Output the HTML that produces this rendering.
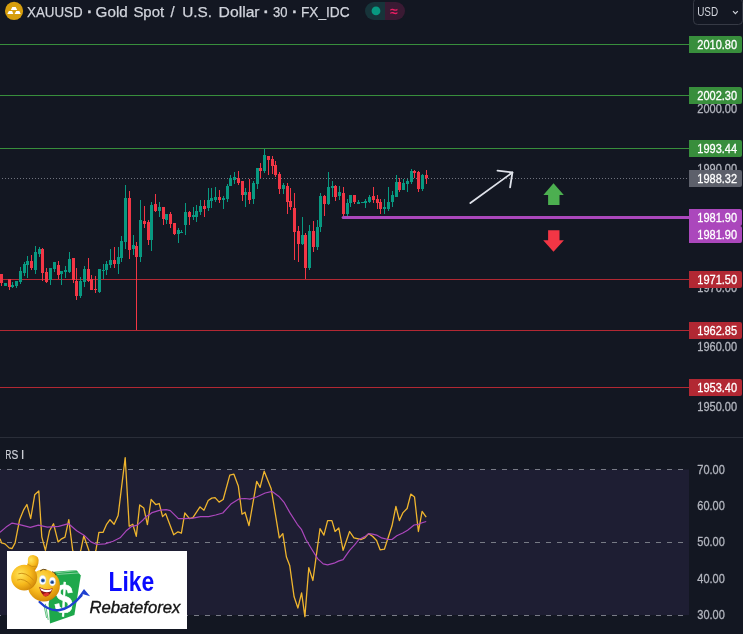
<!DOCTYPE html>
<html lang="en"><head><meta charset="utf-8"><title>XAUUSD chart</title>
<style>html,body{margin:0;padding:0;background:#131722;overflow:hidden}svg{display:block}</style></head>
<body>
<svg width="743" height="634" viewBox="0 0 743 634" font-family='"Liberation Sans", "DejaVu Sans", sans-serif'>
<rect width="743" height="634" fill="#131722"/>
<rect x="0" y="44" width="689" height="1" fill="#388e3c" />
<rect x="0" y="95" width="689" height="1" fill="#388e3c" />
<rect x="0" y="148" width="689" height="1" fill="#388e3c" />
<rect x="0" y="279" width="689" height="1" fill="#b22833" />
<rect x="0" y="330" width="689" height="1" fill="#b22833" />
<rect x="0" y="387" width="689" height="1" fill="#b22833" />
<line x1="2" y1="178.5" x2="688" y2="178.5" stroke="#70737e" stroke-width="1" stroke-dasharray="1 2" shape-rendering="crispEdges"/>
<g shape-rendering="crispEdges">
<rect x="1" y="274" width="1" height="12" fill="#f23645"/>
<rect x="0" y="274" width="3" height="9" fill="#f23645"/>
<rect x="5" y="283" width="1" height="3" fill="#089981"/>
<rect x="4" y="283" width="3" height="3" fill="#089981"/>
<rect x="9" y="279" width="1" height="11" fill="#f23645"/>
<rect x="8" y="279" width="3" height="8" fill="#f23645"/>
<rect x="12" y="282" width="1" height="6" fill="#089981"/>
<rect x="11" y="285" width="3" height="2" fill="#089981"/>
<rect x="16" y="281" width="1" height="7" fill="#089981"/>
<rect x="15" y="281" width="3" height="5" fill="#089981"/>
<rect x="20" y="267" width="1" height="17" fill="#089981"/>
<rect x="19" y="271" width="3" height="11" fill="#089981"/>
<rect x="24" y="262" width="1" height="14" fill="#089981"/>
<rect x="23" y="264" width="3" height="9" fill="#089981"/>
<rect x="27" y="256" width="1" height="22" fill="#089981"/>
<rect x="26" y="261" width="3" height="4" fill="#089981"/>
<rect x="31" y="255" width="1" height="15" fill="#f23645"/>
<rect x="30" y="261" width="3" height="7" fill="#f23645"/>
<rect x="35" y="246" width="1" height="28" fill="#089981"/>
<rect x="34" y="252" width="3" height="18" fill="#089981"/>
<rect x="39" y="247" width="1" height="10" fill="#089981"/>
<rect x="38" y="249" width="3" height="5" fill="#089981"/>
<rect x="42" y="248" width="1" height="33" fill="#f23645"/>
<rect x="41" y="249" width="3" height="24" fill="#f23645"/>
<rect x="46" y="268" width="1" height="15" fill="#f23645"/>
<rect x="45" y="272" width="3" height="10" fill="#f23645"/>
<rect x="50" y="268" width="1" height="17" fill="#089981"/>
<rect x="49" y="268" width="3" height="12" fill="#089981"/>
<rect x="54" y="262" width="1" height="10" fill="#089981"/>
<rect x="53" y="262" width="3" height="7" fill="#089981"/>
<rect x="58" y="261" width="1" height="18" fill="#f23645"/>
<rect x="57" y="265" width="3" height="10" fill="#f23645"/>
<rect x="61" y="271" width="1" height="14" fill="#089981"/>
<rect x="60" y="271" width="3" height="3" fill="#089981"/>
<rect x="65" y="266" width="1" height="12" fill="#089981"/>
<rect x="64" y="270" width="3" height="2" fill="#089981"/>
<rect x="69" y="252" width="1" height="21" fill="#089981"/>
<rect x="68" y="259" width="3" height="13" fill="#089981"/>
<rect x="73" y="258" width="1" height="25" fill="#f23645"/>
<rect x="72" y="258" width="3" height="22" fill="#f23645"/>
<rect x="76" y="268" width="1" height="32" fill="#f23645"/>
<rect x="75" y="281" width="3" height="15" fill="#f23645"/>
<rect x="80" y="277" width="1" height="21" fill="#089981"/>
<rect x="79" y="281" width="3" height="15" fill="#089981"/>
<rect x="84" y="266" width="1" height="21" fill="#089981"/>
<rect x="83" y="269" width="3" height="13" fill="#089981"/>
<rect x="88" y="258" width="1" height="24" fill="#f23645"/>
<rect x="87" y="269" width="3" height="12" fill="#f23645"/>
<rect x="91" y="275" width="1" height="15" fill="#f23645"/>
<rect x="90" y="279" width="3" height="11" fill="#f23645"/>
<rect x="95" y="276" width="1" height="17" fill="#f23645"/>
<rect x="94" y="289" width="3" height="1" fill="#f23645"/>
<rect x="99" y="269" width="1" height="24" fill="#089981"/>
<rect x="98" y="269" width="3" height="23" fill="#089981"/>
<rect x="103" y="264" width="1" height="15" fill="#089981"/>
<rect x="102" y="270" width="3" height="1" fill="#089981"/>
<rect x="106" y="261" width="1" height="14" fill="#089981"/>
<rect x="105" y="264" width="3" height="6" fill="#089981"/>
<rect x="110" y="249" width="1" height="19" fill="#089981"/>
<rect x="109" y="260" width="3" height="5" fill="#089981"/>
<rect x="114" y="247" width="1" height="21" fill="#f23645"/>
<rect x="113" y="260" width="3" height="4" fill="#f23645"/>
<rect x="118" y="247" width="1" height="27" fill="#089981"/>
<rect x="117" y="257" width="3" height="7" fill="#089981"/>
<rect x="121" y="236" width="1" height="26" fill="#089981"/>
<rect x="120" y="241" width="3" height="17" fill="#089981"/>
<rect x="125" y="185" width="1" height="64" fill="#089981"/>
<rect x="124" y="198" width="3" height="44" fill="#089981"/>
<rect x="129" y="191" width="1" height="68" fill="#f23645"/>
<rect x="128" y="198" width="3" height="52" fill="#f23645"/>
<rect x="133" y="235" width="1" height="20" fill="#089981"/>
<rect x="132" y="245" width="3" height="4" fill="#089981"/>
<rect x="136" y="242" width="1" height="88" fill="#f23645"/>
<rect x="135" y="246" width="3" height="11" fill="#f23645"/>
<rect x="140" y="200" width="1" height="62" fill="#089981"/>
<rect x="139" y="220" width="3" height="37" fill="#089981"/>
<rect x="144" y="206" width="1" height="22" fill="#f23645"/>
<rect x="143" y="221" width="3" height="3" fill="#f23645"/>
<rect x="148" y="220" width="1" height="25" fill="#f23645"/>
<rect x="147" y="222" width="3" height="18" fill="#f23645"/>
<rect x="151" y="202" width="1" height="49" fill="#089981"/>
<rect x="150" y="205" width="3" height="35" fill="#089981"/>
<rect x="155" y="194" width="1" height="18" fill="#f23645"/>
<rect x="154" y="204" width="3" height="7" fill="#f23645"/>
<rect x="159" y="202" width="1" height="15" fill="#089981"/>
<rect x="158" y="207" width="3" height="4" fill="#089981"/>
<rect x="163" y="207" width="1" height="18" fill="#f23645"/>
<rect x="162" y="207" width="3" height="12" fill="#f23645"/>
<rect x="166" y="214" width="1" height="10" fill="#089981"/>
<rect x="165" y="214" width="3" height="6" fill="#089981"/>
<rect x="170" y="212" width="1" height="16" fill="#f23645"/>
<rect x="169" y="214" width="3" height="10" fill="#f23645"/>
<rect x="174" y="223" width="1" height="12" fill="#f23645"/>
<rect x="173" y="223" width="3" height="11" fill="#f23645"/>
<rect x="178" y="228" width="1" height="15" fill="#089981"/>
<rect x="177" y="230" width="3" height="4" fill="#089981"/>
<rect x="181" y="230" width="1" height="3" fill="#089981"/>
<rect x="180" y="232" width="3" height="1" fill="#089981"/>
<rect x="185" y="203" width="1" height="32" fill="#089981"/>
<rect x="184" y="212" width="3" height="13" fill="#089981"/>
<rect x="189" y="211" width="1" height="14" fill="#f23645"/>
<rect x="188" y="212" width="3" height="5" fill="#f23645"/>
<rect x="193" y="207" width="1" height="13" fill="#089981"/>
<rect x="192" y="215" width="3" height="2" fill="#089981"/>
<rect x="196" y="205" width="1" height="17" fill="#089981"/>
<rect x="195" y="211" width="3" height="6" fill="#089981"/>
<rect x="200" y="200" width="1" height="15" fill="#089981"/>
<rect x="199" y="206" width="3" height="6" fill="#089981"/>
<rect x="204" y="200" width="1" height="17" fill="#f23645"/>
<rect x="203" y="206" width="3" height="3" fill="#f23645"/>
<rect x="208" y="188" width="1" height="23" fill="#089981"/>
<rect x="207" y="200" width="3" height="8" fill="#089981"/>
<rect x="211" y="188" width="1" height="20" fill="#089981"/>
<rect x="210" y="198" width="3" height="3" fill="#089981"/>
<rect x="215" y="187" width="1" height="15" fill="#089981"/>
<rect x="214" y="197" width="3" height="3" fill="#089981"/>
<rect x="219" y="190" width="1" height="13" fill="#f23645"/>
<rect x="218" y="197" width="3" height="3" fill="#f23645"/>
<rect x="223" y="196" width="1" height="13" fill="#089981"/>
<rect x="222" y="198" width="3" height="2" fill="#089981"/>
<rect x="227" y="184" width="1" height="18" fill="#089981"/>
<rect x="226" y="186" width="3" height="13" fill="#089981"/>
<rect x="230" y="175" width="1" height="11" fill="#089981"/>
<rect x="229" y="178" width="3" height="8" fill="#089981"/>
<rect x="234" y="172" width="1" height="12" fill="#089981"/>
<rect x="233" y="177" width="3" height="3" fill="#089981"/>
<rect x="238" y="171" width="1" height="14" fill="#f23645"/>
<rect x="237" y="178" width="3" height="5" fill="#f23645"/>
<rect x="242" y="181" width="1" height="20" fill="#f23645"/>
<rect x="241" y="181" width="3" height="14" fill="#f23645"/>
<rect x="245" y="188" width="1" height="19" fill="#089981"/>
<rect x="244" y="192" width="3" height="3" fill="#089981"/>
<rect x="249" y="179" width="1" height="25" fill="#f23645"/>
<rect x="248" y="192" width="3" height="8" fill="#f23645"/>
<rect x="253" y="181" width="1" height="23" fill="#089981"/>
<rect x="252" y="183" width="3" height="16" fill="#089981"/>
<rect x="257" y="168" width="1" height="21" fill="#089981"/>
<rect x="256" y="168" width="3" height="16" fill="#089981"/>
<rect x="260" y="163" width="1" height="15" fill="#f23645"/>
<rect x="259" y="168" width="3" height="3" fill="#f23645"/>
<rect x="264" y="149" width="1" height="24" fill="#089981"/>
<rect x="263" y="155" width="3" height="16" fill="#089981"/>
<rect x="268" y="156" width="1" height="19" fill="#f23645"/>
<rect x="267" y="156" width="3" height="4" fill="#f23645"/>
<rect x="272" y="156" width="1" height="18" fill="#f23645"/>
<rect x="271" y="159" width="3" height="7" fill="#f23645"/>
<rect x="275" y="161" width="1" height="16" fill="#f23645"/>
<rect x="274" y="165" width="3" height="10" fill="#f23645"/>
<rect x="279" y="172" width="1" height="22" fill="#f23645"/>
<rect x="278" y="174" width="3" height="15" fill="#f23645"/>
<rect x="283" y="183" width="1" height="11" fill="#089981"/>
<rect x="282" y="185" width="3" height="4" fill="#089981"/>
<rect x="287" y="183" width="1" height="31" fill="#f23645"/>
<rect x="286" y="186" width="3" height="16" fill="#f23645"/>
<rect x="290" y="188" width="1" height="22" fill="#f23645"/>
<rect x="289" y="201" width="3" height="6" fill="#f23645"/>
<rect x="294" y="193" width="1" height="67" fill="#f23645"/>
<rect x="293" y="208" width="3" height="24" fill="#f23645"/>
<rect x="298" y="226" width="1" height="36" fill="#f23645"/>
<rect x="297" y="231" width="3" height="13" fill="#f23645"/>
<rect x="302" y="217" width="1" height="28" fill="#089981"/>
<rect x="301" y="235" width="3" height="9" fill="#089981"/>
<rect x="305" y="233" width="1" height="46" fill="#f23645"/>
<rect x="304" y="235" width="3" height="33" fill="#f23645"/>
<rect x="309" y="225" width="1" height="45" fill="#089981"/>
<rect x="308" y="231" width="3" height="37" fill="#089981"/>
<rect x="313" y="221" width="1" height="31" fill="#f23645"/>
<rect x="312" y="231" width="3" height="16" fill="#f23645"/>
<rect x="317" y="220" width="1" height="30" fill="#089981"/>
<rect x="316" y="227" width="3" height="20" fill="#089981"/>
<rect x="320" y="193" width="1" height="39" fill="#089981"/>
<rect x="319" y="196" width="3" height="31" fill="#089981"/>
<rect x="324" y="195" width="1" height="21" fill="#f23645"/>
<rect x="323" y="196" width="3" height="8" fill="#f23645"/>
<rect x="328" y="172" width="1" height="33" fill="#089981"/>
<rect x="327" y="187" width="3" height="17" fill="#089981"/>
<rect x="332" y="181" width="1" height="16" fill="#089981"/>
<rect x="331" y="186" width="3" height="2" fill="#089981"/>
<rect x="335" y="185" width="1" height="16" fill="#f23645"/>
<rect x="334" y="186" width="3" height="11" fill="#f23645"/>
<rect x="339" y="186" width="1" height="14" fill="#089981"/>
<rect x="338" y="192" width="3" height="4" fill="#089981"/>
<rect x="343" y="187" width="1" height="30" fill="#f23645"/>
<rect x="342" y="193" width="3" height="21" fill="#f23645"/>
<rect x="347" y="199" width="1" height="18" fill="#089981"/>
<rect x="346" y="203" width="3" height="11" fill="#089981"/>
<rect x="350" y="195" width="1" height="12" fill="#089981"/>
<rect x="349" y="195" width="3" height="8" fill="#089981"/>
<rect x="354" y="195" width="1" height="9" fill="#f23645"/>
<rect x="353" y="195" width="3" height="7" fill="#f23645"/>
<rect x="358" y="200" width="1" height="4" fill="#089981"/>
<rect x="357" y="202" width="3" height="2" fill="#089981"/>
<rect x="362" y="202" width="1" height="1" fill="#089981"/>
<rect x="361" y="202" width="3" height="1" fill="#089981"/>
<rect x="365" y="199" width="1" height="9" fill="#089981"/>
<rect x="364" y="201" width="3" height="2" fill="#089981"/>
<rect x="369" y="195" width="1" height="8" fill="#089981"/>
<rect x="368" y="197" width="3" height="5" fill="#089981"/>
<rect x="373" y="187" width="1" height="16" fill="#f23645"/>
<rect x="372" y="196" width="3" height="4" fill="#f23645"/>
<rect x="377" y="195" width="1" height="14" fill="#f23645"/>
<rect x="376" y="199" width="3" height="4" fill="#f23645"/>
<rect x="380" y="199" width="1" height="15" fill="#f23645"/>
<rect x="379" y="202" width="3" height="7" fill="#f23645"/>
<rect x="384" y="199" width="1" height="15" fill="#089981"/>
<rect x="383" y="207" width="3" height="2" fill="#089981"/>
<rect x="388" y="187" width="1" height="24" fill="#089981"/>
<rect x="387" y="202" width="3" height="7" fill="#089981"/>
<rect x="392" y="191" width="1" height="16" fill="#089981"/>
<rect x="391" y="195" width="3" height="7" fill="#089981"/>
<rect x="396" y="175" width="1" height="22" fill="#089981"/>
<rect x="395" y="182" width="3" height="15" fill="#089981"/>
<rect x="399" y="178" width="1" height="14" fill="#f23645"/>
<rect x="398" y="182" width="3" height="8" fill="#f23645"/>
<rect x="403" y="179" width="1" height="11" fill="#089981"/>
<rect x="402" y="183" width="3" height="7" fill="#089981"/>
<rect x="407" y="179" width="1" height="13" fill="#089981"/>
<rect x="406" y="181" width="3" height="3" fill="#089981"/>
<rect x="411" y="169" width="1" height="15" fill="#089981"/>
<rect x="410" y="171" width="3" height="11" fill="#089981"/>
<rect x="414" y="170" width="1" height="8" fill="#f23645"/>
<rect x="413" y="171" width="3" height="2" fill="#f23645"/>
<rect x="418" y="171" width="1" height="21" fill="#f23645"/>
<rect x="417" y="172" width="3" height="17" fill="#f23645"/>
<rect x="422" y="174" width="1" height="17" fill="#089981"/>
<rect x="421" y="175" width="3" height="14" fill="#089981"/>
<rect x="426" y="170" width="1" height="14" fill="#f23645"/>
<rect x="425" y="175" width="3" height="3" fill="#f23645"/>
</g>
<path d="M343.1 217.5 H689" stroke="#ab47bc" stroke-width="3" stroke-linecap="round" fill="none"/>
<g stroke="#dfe2ea" stroke-width="1.8" stroke-linecap="round" stroke-linejoin="round" fill="none"><path d="M470.4 203.1 L512.4 172.5"/><path d="M497.5 170.7 L512.4 172.5 L510.1 187.4"/></g>
<path d="M553.5 183.3 L563.8 194.9 L559.5 194.9 L559.5 204.9 L548.1 204.9 L548.1 194.9 L543.4 194.9 Z" fill="#4caf50"/>
<path d="M548.1 230.2 L559.5 230.2 L559.5 240.2 L563.9 240.2 L553.5 251.8 L543.2 240.2 L548.1 240.2 Z" fill="#f23645"/>
<text x="697.3" y="113.35" font-size="12" fill="#b2b5be" textLength="39.8" lengthAdjust="spacingAndGlyphs" font-weight="normal" stroke="#b2b5be" stroke-width="0.3">2000.00</text>
<text x="697.3" y="172.85" font-size="12" fill="#b2b5be" textLength="39.8" lengthAdjust="spacingAndGlyphs" font-weight="normal" stroke="#b2b5be" stroke-width="0.3">1990.00</text>
<text x="697.3" y="232.35" font-size="12" fill="#b2b5be" textLength="39.8" lengthAdjust="spacingAndGlyphs" font-weight="normal" stroke="#b2b5be" stroke-width="0.3">1980.00</text>
<text x="697.3" y="291.85" font-size="12" fill="#b2b5be" textLength="39.8" lengthAdjust="spacingAndGlyphs" font-weight="normal" stroke="#b2b5be" stroke-width="0.3">1970.00</text>
<text x="697.3" y="351.35" font-size="12" fill="#b2b5be" textLength="39.8" lengthAdjust="spacingAndGlyphs" font-weight="normal" stroke="#b2b5be" stroke-width="0.3">1960.00</text>
<text x="697.3" y="410.85" font-size="12" fill="#b2b5be" textLength="39.8" lengthAdjust="spacingAndGlyphs" font-weight="normal" stroke="#b2b5be" stroke-width="0.3">1950.00</text>
<path d="M689 36 H740 a2 2 0 0 1 2 2 V51 a2 2 0 0 1 -2 2 H689 Z" fill="#388e3c"/>
<text x="697.3" y="48.85" font-size="12" fill="#ffffff" textLength="39.8" lengthAdjust="spacingAndGlyphs" font-weight="normal" stroke="#ffffff" stroke-width="0.3">2010.80</text>
<path d="M689 87 H740 a2 2 0 0 1 2 2 V102 a2 2 0 0 1 -2 2 H689 Z" fill="#388e3c"/>
<text x="697.3" y="99.85" font-size="12" fill="#ffffff" textLength="39.8" lengthAdjust="spacingAndGlyphs" font-weight="normal" stroke="#ffffff" stroke-width="0.3">2002.30</text>
<path d="M689 140 H740 a2 2 0 0 1 2 2 V155 a2 2 0 0 1 -2 2 H689 Z" fill="#388e3c"/>
<text x="697.3" y="152.85" font-size="12" fill="#ffffff" textLength="39.8" lengthAdjust="spacingAndGlyphs" font-weight="normal" stroke="#ffffff" stroke-width="0.3">1993.44</text>
<path d="M689 170 H740 a2 2 0 0 1 2 2 V185 a2 2 0 0 1 -2 2 H689 Z" fill="#5d606b"/>
<text x="697.3" y="182.85" font-size="12" fill="#ffffff" textLength="39.8" lengthAdjust="spacingAndGlyphs" font-weight="normal" stroke="#ffffff" stroke-width="0.3">1988.32</text>
<path d="M689 209 H740 a2 2 0 0 1 2 2 V224 a2 2 0 0 1 -2 2 H689 Z" fill="#ab47bc"/>
<text x="697.3" y="221.85" font-size="12" fill="#ffffff" textLength="39.8" lengthAdjust="spacingAndGlyphs" font-weight="normal" stroke="#ffffff" stroke-width="0.3">1981.90</text>
<path d="M689 226 H740 a2 2 0 0 1 2 2 V241 a2 2 0 0 1 -2 2 H689 Z" fill="#ab47bc"/>
<text x="697.3" y="238.85" font-size="12" fill="#ffffff" textLength="39.8" lengthAdjust="spacingAndGlyphs" font-weight="normal" stroke="#ffffff" stroke-width="0.3">1981.90</text>
<path d="M689 271 H740 a2 2 0 0 1 2 2 V286 a2 2 0 0 1 -2 2 H689 Z" fill="#b22833"/>
<text x="697.3" y="283.85" font-size="12" fill="#ffffff" textLength="39.8" lengthAdjust="spacingAndGlyphs" font-weight="normal" stroke="#ffffff" stroke-width="0.3">1971.50</text>
<path d="M689 322 H740 a2 2 0 0 1 2 2 V337 a2 2 0 0 1 -2 2 H689 Z" fill="#b22833"/>
<text x="697.3" y="334.85" font-size="12" fill="#ffffff" textLength="39.8" lengthAdjust="spacingAndGlyphs" font-weight="normal" stroke="#ffffff" stroke-width="0.3">1962.85</text>
<path d="M689 379 H740 a2 2 0 0 1 2 2 V394 a2 2 0 0 1 -2 2 H689 Z" fill="#b22833"/>
<text x="697.3" y="391.85" font-size="12" fill="#ffffff" textLength="39.8" lengthAdjust="spacingAndGlyphs" font-weight="normal" stroke="#ffffff" stroke-width="0.3">1953.40</text>
<rect x="693.5" y="-1.5" width="49" height="26" rx="4" fill="none" stroke="#363a45"/>
<text x="697.2" y="16.1" font-size="12" fill="#d1d4dc" textLength="21" lengthAdjust="spacingAndGlyphs">USD</text>
<path d="M733 11.2 L735.4 13.6 L737.8 11.2" stroke="#d1d4dc" stroke-width="1.2" fill="none"/>
<circle cx="14.05" cy="10.95" r="9.1" fill="#d69e0e"/>
<g fill="#ffffff"><path d="M12.3 7 H15.7 L17.2 10 H10.8 Z"/><path d="M8.9 11 H12.1 L13.3 13.9 H7.3 Z"/><path d="M16.2 11 H19.4 L20.7 13.9 H14.6 Z"/></g>
<text y="16.9" font-size="15.4" fill="#d1d4dc" stroke="#d1d4dc" stroke-width="0.25"><tspan x="27" textLength="55.6" lengthAdjust="spacingAndGlyphs">XAUUSD</tspan><tspan x="87.30" dy="0.4" font-size="15" font-weight="bold" stroke-width="0.45">·</tspan><tspan x="95.6" dy="-0.4" textLength="32.2" lengthAdjust="spacingAndGlyphs">Gold</tspan><tspan x="133.4" textLength="30.8" lengthAdjust="spacingAndGlyphs">Spot</tspan><tspan x="170.6" textLength="4.1" lengthAdjust="spacingAndGlyphs">/</tspan><tspan x="182.2" textLength="29.8" lengthAdjust="spacingAndGlyphs">U.S.</tspan><tspan x="218.6" textLength="41.0" lengthAdjust="spacingAndGlyphs">Dollar</tspan><tspan x="263.85" dy="0.4" font-size="15" font-weight="bold" stroke-width="0.45">·</tspan><tspan x="273.1" dy="-0.4" textLength="14.5" lengthAdjust="spacingAndGlyphs">30</tspan><tspan x="292.15" dy="0.4" font-size="15" font-weight="bold" stroke-width="0.45">·</tspan><tspan x="301.0" dy="-0.4" textLength="48.6" lengthAdjust="spacingAndGlyphs">FX_IDC</tspan></text>
<path d="M374 2 H385 V20 H374 a9 9 0 0 1 0 -18 Z" fill="#17343a"/>
<path d="M385 2 H396 a9 9 0 0 1 0 18 H385 Z" fill="#3a1a33"/>
<circle cx="376" cy="10.9" r="4.4" fill="#089981"/>
<text x="394" y="15.5" font-size="14" fill="#e91e63" text-anchor="middle" font-weight="bold">≈</text>
<rect x="0" y="437" width="743" height="1" fill="#2a2e39"/>
<rect x="0" y="469.5" width="689" height="145.5" fill="#1e1e33"/>
<line x1="0" y1="469.5" x2="689" y2="469.5" stroke="#787b86" stroke-width="1" stroke-dasharray="5 6" stroke-dashoffset="4"/>
<line x1="0" y1="542.5" x2="689" y2="542.5" stroke="#787b86" stroke-width="1" stroke-dasharray="5 6" stroke-dashoffset="4"/>
<line x1="0" y1="615.5" x2="689" y2="615.5" stroke="#787b86" stroke-width="1" stroke-dasharray="5 6" stroke-dashoffset="4"/>
<text y="458.9" font-size="12" fill="#d1d4dc" stroke="#d1d4dc" stroke-width="0.2"><tspan x="5.5" textLength="5.8" lengthAdjust="spacingAndGlyphs">R</tspan><tspan x="11.4" textLength="6.8" lengthAdjust="spacingAndGlyphs">S</tspan><tspan x="20.9" textLength="3.2" lengthAdjust="spacingAndGlyphs">I</tspan></text>
<polyline points="0.0,538.8 1.6,542.9 5.0,543.9 9.1,547.9 12.1,548.5 15.1,542.9 19.6,519.7 23.8,509.6 26.9,504.5 30.7,518.6 34.7,494.8 38.8,491.0 41.8,536.8 45.4,550.3 49.5,530.8 53.5,523.7 58.1,541.9 61.6,538.8 65.0,537.2 68.8,519.7 72.7,550.3 76.7,559.0 80.8,550.3 83.8,535.8 88.8,550.3 92.5,559.0 95.9,550.3 98.9,532.4 103.0,532.4 106.4,524.7 110.0,519.7 114.1,524.3 118.1,515.6 125.2,457.7 129.2,526.3 132.8,524.3 136.3,536.4 139.7,504.9 143.8,508.1 147.4,524.7 151.1,499.5 155.7,504.5 159.2,503.5 162.6,516.6 165.6,513.6 173.7,534.8 178.0,531.8 181.4,533.2 184.8,513.0 189.5,518.6 192.9,517.6 200.0,506.9 204.0,510.2 208.2,500.5 211.7,498.1 215.1,497.6 219.1,502.1 223.2,499.5 229.8,475.2 233.9,474.2 238.3,485.9 242.0,514.2 245.0,512.2 249.0,525.7 256.7,481.3 260.1,487.4 264.2,471.2 271.2,488.8 279.3,537.8 282.8,533.6 286.4,557.0 289.7,565.4 294.1,596.8 297.9,608.0 301.6,592.9 304.9,616.6 308.8,567.6 312.9,580.5 320.0,528.6 323.9,535.1 327.6,520.6 331.9,520.6 335.1,531.5 338.8,528.0 343.1,550.3 349.6,531.5 353.9,537.9 361.1,539.5 364.8,537.9 368.6,533.6 372.5,536.2 376.6,540.5 380.1,549.8 384.4,549.2 392.0,525.8 395.9,506.4 399.4,520.6 402.8,512.9 407.1,508.5 410.8,494.1 414.5,496.9 418.4,531.5 422.1,511.4 426.2,517.2" fill="none" stroke="#efb52e" stroke-width="1.3" stroke-linejoin="round"/>
<polyline points="0.0,532.4 6.1,527.1 12.1,523.1 19.6,524.7 30.3,527.3 38.4,525.1 47.4,527.1 58.6,526.3 68.6,523.7 76.7,530.8 84.8,535.8 90.9,541.9 96.9,544.5 105.0,543.9 113.1,541.3 120.1,537.8 126.2,530.8 131.2,526.7 137.3,525.1 143.3,519.7 146.1,516.6 150.0,514.2 152.1,512.6 160.2,510.2 166.2,509.6 170.3,510.6 178.4,518.6 184.4,518.6 192.9,518.2 200.6,516.6 208.6,516.6 215.7,515.0 222.8,513.0 230.9,504.1 238.9,498.9 245.0,498.5 250.0,499.1 257.1,496.8 265.2,493.0 272.2,491.4 279.3,496.8 284.3,502.7 289.7,512.4 297.3,524.3 301.6,529.7 305.9,539.5 312.4,550.3 317.8,558.9 323.2,563.9 327.6,564.8 334.1,563.2 338.4,561.1 343.1,559.6 349.6,550.3 354.6,544.9 358.9,539.5 364.8,536.6 368.6,533.6 372.5,534.1 376.6,535.1 381.6,537.9 388.1,539.5 392.0,539.5 396.8,535.8 402.8,533.0 407.6,530.2 414.1,525.0 418.4,524.3 422.1,522.8 426.2,521.5" fill="none" stroke="#ab47bc" stroke-width="1.2" stroke-linejoin="round"/>
<text x="697.3" y="473.95" font-size="12" fill="#b2b5be" textLength="27.5" lengthAdjust="spacingAndGlyphs" font-weight="normal" stroke="#b2b5be" stroke-width="0.3">70.00</text>
<text x="697.3" y="510.05" font-size="12" fill="#b2b5be" textLength="27.5" lengthAdjust="spacingAndGlyphs" font-weight="normal" stroke="#b2b5be" stroke-width="0.3">60.00</text>
<text x="697.3" y="546.15" font-size="12" fill="#b2b5be" textLength="27.5" lengthAdjust="spacingAndGlyphs" font-weight="normal" stroke="#b2b5be" stroke-width="0.3">50.00</text>
<text x="697.3" y="582.95" font-size="12" fill="#b2b5be" textLength="27.5" lengthAdjust="spacingAndGlyphs" font-weight="normal" stroke="#b2b5be" stroke-width="0.3">40.00</text>
<text x="697.3" y="618.75" font-size="12" fill="#b2b5be" textLength="27.5" lengthAdjust="spacingAndGlyphs" font-weight="normal" stroke="#b2b5be" stroke-width="0.3">30.00</text>
<rect x="7" y="551" width="180" height="78" fill="#ffffff"/>
<path d="M54.3 571.7 L76.5 570.1 L80.8 575.6 L74.4 614.9 L50.0 623.5 L48.6 603.9 Z" fill="#1ea84b"/>
<path d="M55.6 572.9 L77.7 570.4 M57.4 574.4 L79.5 572.9" stroke="#ffffff" stroke-width="0.6" opacity="0.75"/>
<path d="M43.9 605.1 L46.6 618.0 M45.4 603.9 L48.2 619.9" stroke="#1ea84b" stroke-width="0.7"/>
<text transform="translate(63.2 613.2) rotate(3) scale(0.78 1)" font-size="42" stroke="#ffffff" stroke-width="0.6" font-weight="bold" fill="#ffffff" text-anchor="middle">$</text>
<path d="M39.6 602.0 Q59.0 621.3 81.5 595.5" stroke="#1f40d0" stroke-width="2.4" fill="none" stroke-linecap="round"/>
<path d="M84.0 589.1 L90.1 596.2 L83.2 594.3 L77.6 598.0 Z" fill="#1f40d0"/>
<defs><radialGradient id="g1" cx="42%" cy="32%" r="72%"><stop offset="0" stop-color="#ffe45a"/><stop offset="0.55" stop-color="#f7b91c"/><stop offset="0.9" stop-color="#d8900c"/><stop offset="1" stop-color="#b87408"/></radialGradient></defs>
<circle cx="43.9" cy="585.4" r="16" fill="url(#g1)"/>
<ellipse cx="42.6" cy="580" rx="3.3" ry="4.6" fill="#ffffff" stroke="#c9d6ee" stroke-width="0.4"/><ellipse cx="52.4" cy="581.6" rx="3.1" ry="4.3" fill="#ffffff" stroke="#c9d6ee" stroke-width="0.4"/>
<circle cx="42.9" cy="580.6" r="2" fill="#3b6fc4"/><circle cx="52.2" cy="582.2" r="1.9" fill="#3b6fc4"/><circle cx="42.9" cy="580.6" r="0.9" fill="#1a2f5e"/><circle cx="52.2" cy="582.2" r="0.9" fill="#1a2f5e"/>
<path d="M40.4 570.7 Q42.9 568.2 46.1 569.7 M52.5 571.7 Q55.2 572.1 55.9 575.0" stroke="#5a3a0a" stroke-width="0.9" fill="none" stroke-linecap="round"/>
<path d="M39.2 587.0 Q45.7 591.0 52.7 588.3 Q50.3 596.7 45.1 596.5 Q40.8 594.0 39.2 587.0 Z" fill="#8c1414"/>
<path d="M40.0 587.9 Q45.7 591.3 52.0 588.9 L51.0 591.3 Q45.7 593.4 41.2 590.6 Z" fill="#ffffff"/>
<ellipse cx="46.1" cy="594.6" rx="3" ry="1.6" fill="#e0342c" transform="rotate(-12 46.1 594.6)"/>
<path d="M27.9 562.7 Q26.7 554.7 33.2 554.9 Q40.0 555.9 38.4 563.3 Q37.7 567.6 34.7 570.7 L25.4 569.4 Z" fill="url(#g1)"/>
<ellipse cx="24.2" cy="577.6" rx="13" ry="12.8" fill="url(#g1)" transform="rotate(-25 24.2 577.6)"/>
<path d="M18.7 573.7 Q25.4 571.3 33.4 579.9 M17.5 579.9 Q24.2 577.4 31.0 585.4 M27.9 564.5 Q31.6 567.6 36.5 566.4" stroke="#c98a10" stroke-width="0.9" fill="none" stroke-linecap="round"/>
<text x="108.6" y="590.9" font-size="26.8" font-weight="bold" fill="#0a0aff" textLength="45.6" lengthAdjust="spacingAndGlyphs">Like</text>
<text x="89.4" y="613.2" font-size="16.5" font-style="italic" fill="#141414" stroke="#141414" stroke-width="0.35" textLength="91" lengthAdjust="spacingAndGlyphs">Rebateforex</text>
</svg>
</body></html>
